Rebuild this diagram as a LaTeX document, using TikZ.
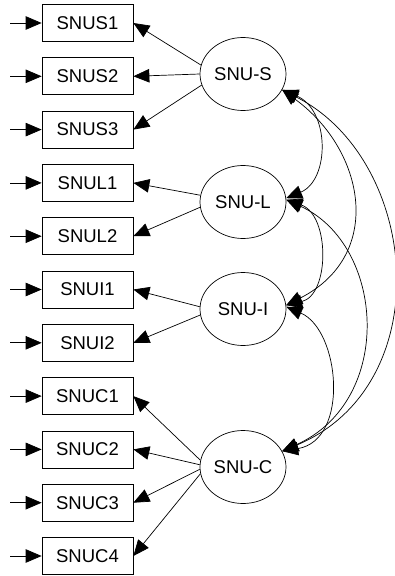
\documentclass[tikz,border=0pt]{standalone}
\usepackage{fontspec}
\setmainfont{Liberation Sans}
\usetikzlibrary{arrows.meta,calc,shapes.geometric}
\begin{document}
\begin{tikzpicture}[x=1pt,y=-1pt,
  >={Triangle[length=16pt,width=13.5pt]},
  every path/.style={line width=0.7pt},
  obs/.style={draw, line width=0.7pt, minimum width=91pt, minimum height=37pt, inner sep=0pt, font=\fontsize{18.5}{20}\selectfont},
  lat/.style={draw, ellipse, line width=0.7pt, minimum width=86pt, minimum height=73pt, inner sep=0pt, font=\fontsize{18.5}{20}\selectfont},
  err/.style={->},
  load/.style={->},
  cov/.style={<->}]
\useasboundingbox (0,0) rectangle (395,576);
% observed boxes
\foreach \n/\k in {SNUS1/0,SNUS2/1,SNUS3/2,SNUL1/3,SNUL2/4,SNUI1/5,SNUI2/6,SNUC1/7,SNUC2/8,SNUC3/9,SNUC4/10}{
  \node[obs] (\n) at (87.5,{23+53.3*\k}) {\n};
  \coordinate (e\n) at (10,{23+53.3*\k});
  \draw[err] (e\n) -- (\n.west);
}
% latent ellipses
\node[lat] (S) at (243,74) {SNU-S};
\node[lat] (L) at (243,202) {SNU-L};
\node[lat] (I) at (243,309) {SNU-I};
\node[lat] (C) at (243,467) {SNU-C};
% loadings
\draw[load] (S.168) -- (SNUS1.east);
\draw[load] (S.180) -- (SNUS2.east);
\draw[load] (S.195) -- (SNUS3.east);
\draw[load] (L.171) -- (SNUL1.east);
\draw[load] (L.187) -- (SNUL2.east);
\draw[load] (I.177) -- (SNUI1.east);
\draw[load] (I.188) -- (SNUI2.east);
\draw[load] (C.171) -- (SNUC1.east);
\draw[load] (C.177) -- (SNUC2.east);
\draw[load] (C.183) -- (SNUC3.east);
\draw[load] (C.189) -- (SNUC4.east);
% covariances
\draw[cov] (S.-22) .. controls (330,110) and (330,180) .. (L.5);
\draw[cov] (S.-22) .. controls (365,150) and (385,255) .. (I.5);
\draw[cov] (S.-22) .. controls (420,160) and (440,385) .. (C.22);
\draw[cov] (L.3) .. controls (330,215) and (330,295) .. (I.5);
\draw[cov] (L.3) .. controls (385,245) and (395,400) .. (C.22);
\draw[cov] (I.3) .. controls (340,330) and (350,440) .. (C.22);
\end{tikzpicture}
\end{document}
